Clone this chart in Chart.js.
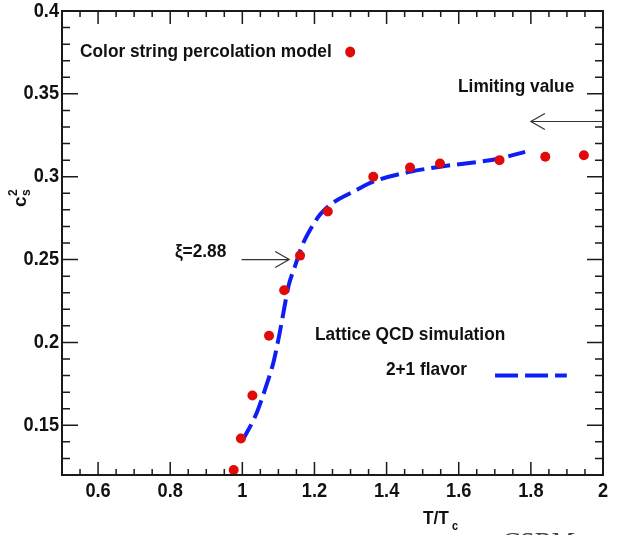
<!DOCTYPE html>
<html>
<head>
<meta charset="utf-8">
<script src="https://cdn.jsdelivr.net/npm/chart.js@4"></script>
<style>
  html, body { margin: 0; padding: 0; background: #fff; }
  canvas { display: block; }
</style>
</head>
<body>
<canvas id="cs2" width="619" height="535"></canvas>
<script>
// Color string percolation model points
const cspmT = [0.976, 0.996, 1.028, 1.074, 1.116, 1.160, 1.237, 1.363, 1.465, 1.548, 1.713, 1.840, 1.947];
const cspmCs2 = [0.123, 0.142, 0.168, 0.204, 0.2315, 0.2524, 0.279, 0.300, 0.3056, 0.308, 0.310, 0.312, 0.313];

// Lattice QCD 2+1 flavor curve
const latticeT = [1.0, 1.04, 1.063, 1.086, 1.10, 1.114, 1.128, 1.146, 1.165, 1.188, 1.215, 1.243, 1.317, 1.363, 1.465, 1.548, 1.713, 1.784];
const latticeCs2 = [0.1405, 0.1576, 0.1717, 0.1878, 0.2018, 0.218, 0.234, 0.246, 0.258, 0.268, 0.277, 0.283, 0.292, 0.297, 0.303, 0.306, 0.311, 0.315];

// axis ticks
const xTicks = [0.6, 0.8, 1.0, 1.2, 1.4, 1.6, 1.8, 2.0];
const yTicks = [0.15, 0.2, 0.25, 0.3, 0.35, 0.4];

const limitingValue = 1 / 3;
const xi = '\u03BE=2.88';

const FONT = '"Liberation Sans", Arial, Helvetica, sans-serif';
const SX = 0.91; // narrow Helvetica look
const RED = '#e10a0a';
const BLUE = '#0f1ef5';

function fmt(v) {
    return String(+v.toFixed(2));
}

function narrowText(ctx, text, x, y, align) {
    ctx.save();
    ctx.translate(x, y);
    ctx.scale(SX, 1);
    ctx.textAlign = align || 'left';
    ctx.fillText(text, 0, 0);
    ctx.restore();
}

// frame with inward ticks on all four sides, tick labels and annotations
const framePlugin = {
    id: 'frame',
    afterDraw(chart) {
        const ctx = chart.ctx;
        const a = chart.chartArea;
        const xs = chart.scales.x, ys = chart.scales.y;
        const X = v => xs.getPixelForValue(v);
        const Y = v => ys.getPixelForValue(v);

        ctx.save();
        ctx.strokeStyle = '#1a1a1a';
        ctx.lineWidth = 2;
        ctx.strokeRect(a.left, a.top, a.right - a.left, a.bottom - a.top);

        ctx.lineWidth = 1.5;
        ctx.beginPath();
        for (let i = 0; i <= 30; i++) {
            const px = X(0.5 + i * 0.05);
            const len = (i % 4 === 2) ? 13 : 6;
            ctx.moveTo(px, a.bottom); ctx.lineTo(px, a.bottom - len);
            ctx.moveTo(px, a.top); ctx.lineTo(px, a.top + len);
        }
        for (let i = 0; i <= 28; i++) {
            const py = Y(0.12 + i * 0.01);
            const len = ((i + 2) % 5 === 0) ? 16 : 8;
            ctx.moveTo(a.left, py); ctx.lineTo(a.left + len, py);
            ctx.moveTo(a.right, py); ctx.lineTo(a.right - len, py);
        }
        ctx.stroke();

        // tick labels
        ctx.fillStyle = '#111';
        ctx.font = 'bold 20px ' + FONT;
        ctx.textBaseline = 'middle';
        xs.ticks.forEach(t => narrowText(ctx, fmt(t.value), X(t.value), a.bottom + 16, 'center'));
        ys.ticks.forEach(t => narrowText(ctx, fmt(t.value), a.left - 3, Y(t.value), 'right'));

        ctx.font = 'bold 19px ' + FONT;
        narrowText(ctx, 'Color string percolation model', X(0.55), Y(0.3753));
        narrowText(ctx, 'Limiting value', X(1.598), Y(0.3544));
        narrowText(ctx, xi, X(0.813), Y(0.2548));
        narrowText(ctx, 'Lattice QCD simulation', X(1.2016), Y(0.2048));
        narrowText(ctx, '2+1 flavor', X(1.398), Y(0.1837));

        // legend markers
        ctx.fillStyle = RED;
        ctx.beginPath();
        ctx.ellipse(X(1.299), Y(0.3753), 5, 5.5, 0, 0, Math.PI * 2);
        ctx.fill();
        ctx.strokeStyle = BLUE;
        ctx.lineWidth = 4;
        ctx.setLineDash([23, 7]);
        ctx.beginPath();
        ctx.moveTo(X(1.7007), Y(0.1801));
        ctx.lineTo(X(1.8996), Y(0.1801));
        ctx.stroke();
        ctx.setLineDash([]);

        // arrows
        ctx.strokeStyle = '#333';
        ctx.lineWidth = 1.2;
        const arrow = (x0, x1, y) => {
            const dir = Math.sign(x1 - x0);
            ctx.beginPath();
            ctx.moveTo(X(x0), Y(y)); ctx.lineTo(X(x1), Y(y));
            ctx.moveTo(X(x1) - dir * 14, Y(y) - 8); ctx.lineTo(X(x1), Y(y));
            ctx.lineTo(X(x1) - dir * 14, Y(y) + 8);
            ctx.stroke();
        };
        arrow(0.998, 1.130, 0.250);
        arrow(2.0, 1.80, limitingValue);

        // axis titles
        ctx.fillStyle = '#111';
        ctx.textBaseline = 'alphabetic';
        ctx.font = 'bold 19px ' + FONT;
        narrowText(ctx, 'T/T', 423, 524);
        ctx.font = 'bold 12px ' + FONT;
        narrowText(ctx, 'c', 452, 530);

        ctx.save();
        ctx.translate(26, 207);
        ctx.rotate(-Math.PI / 2);
        ctx.font = 'bold 19px ' + FONT;
        ctx.fillText('c', 0, 0);
        ctx.font = 'bold 12px ' + FONT;
        ctx.fillText('2', 11, -9);
        ctx.fillText('s', 11, 4);
        ctx.restore();

        ctx.fillStyle = '#444';
        ctx.font = 'italic 28px "Liberation Serif", serif';
        ctx.textBaseline = 'top';
        ctx.fillText('CSBM', 500, 530);
        ctx.restore();
    }
};

new Chart(document.getElementById('cs2').getContext('2d'), {
    type: 'scatter',
    data: {
        datasets: [{
            label: 'Color string percolation model',
            data: cspmT.map((t, i) => ({ x: t, y: cspmCs2[i] })),
            pointRadius: 5,
            pointBackgroundColor: RED,
            pointBorderWidth: 0,
            showLine: false
        }, {
            label: 'Lattice QCD simulation 2+1 flavor',
            data: latticeT.map((t, i) => ({ x: t, y: latticeCs2[i] })),
            showLine: true,
            borderColor: BLUE,
            borderWidth: 4,
            borderDash: [19, 7],
            pointRadius: 0,
            cubicInterpolationMode: 'monotone'
        }]
    },
    options: {
        responsive: false,
        animation: false,
        layout: { padding: { top: 11, right: 16, left: 0, bottom: 0 } },
        plugins: { legend: { display: false }, tooltip: { enabled: false } },
        scales: {
            x: {
                type: 'linear',
                min: 0.5, max: 2.0,
                grid: { display: false, drawTicks: false },
                border: { display: false },
                afterBuildTicks: s => { s.ticks = xTicks.map(v => ({ value: v })); },
                afterFit: s => { s.height = 60; },
                ticks: { display: false }
            },
            y: {
                type: 'linear',
                min: 0.12, max: 0.4,
                grid: { display: false, drawTicks: false },
                border: { display: false },
                afterBuildTicks: s => { s.ticks = yTicks.map(v => ({ value: v })); },
                afterFit: s => { s.width = 62; },
                ticks: { display: false }
            }
        }
    },
    plugins: [framePlugin]
});
</script>
</body>
</html>
